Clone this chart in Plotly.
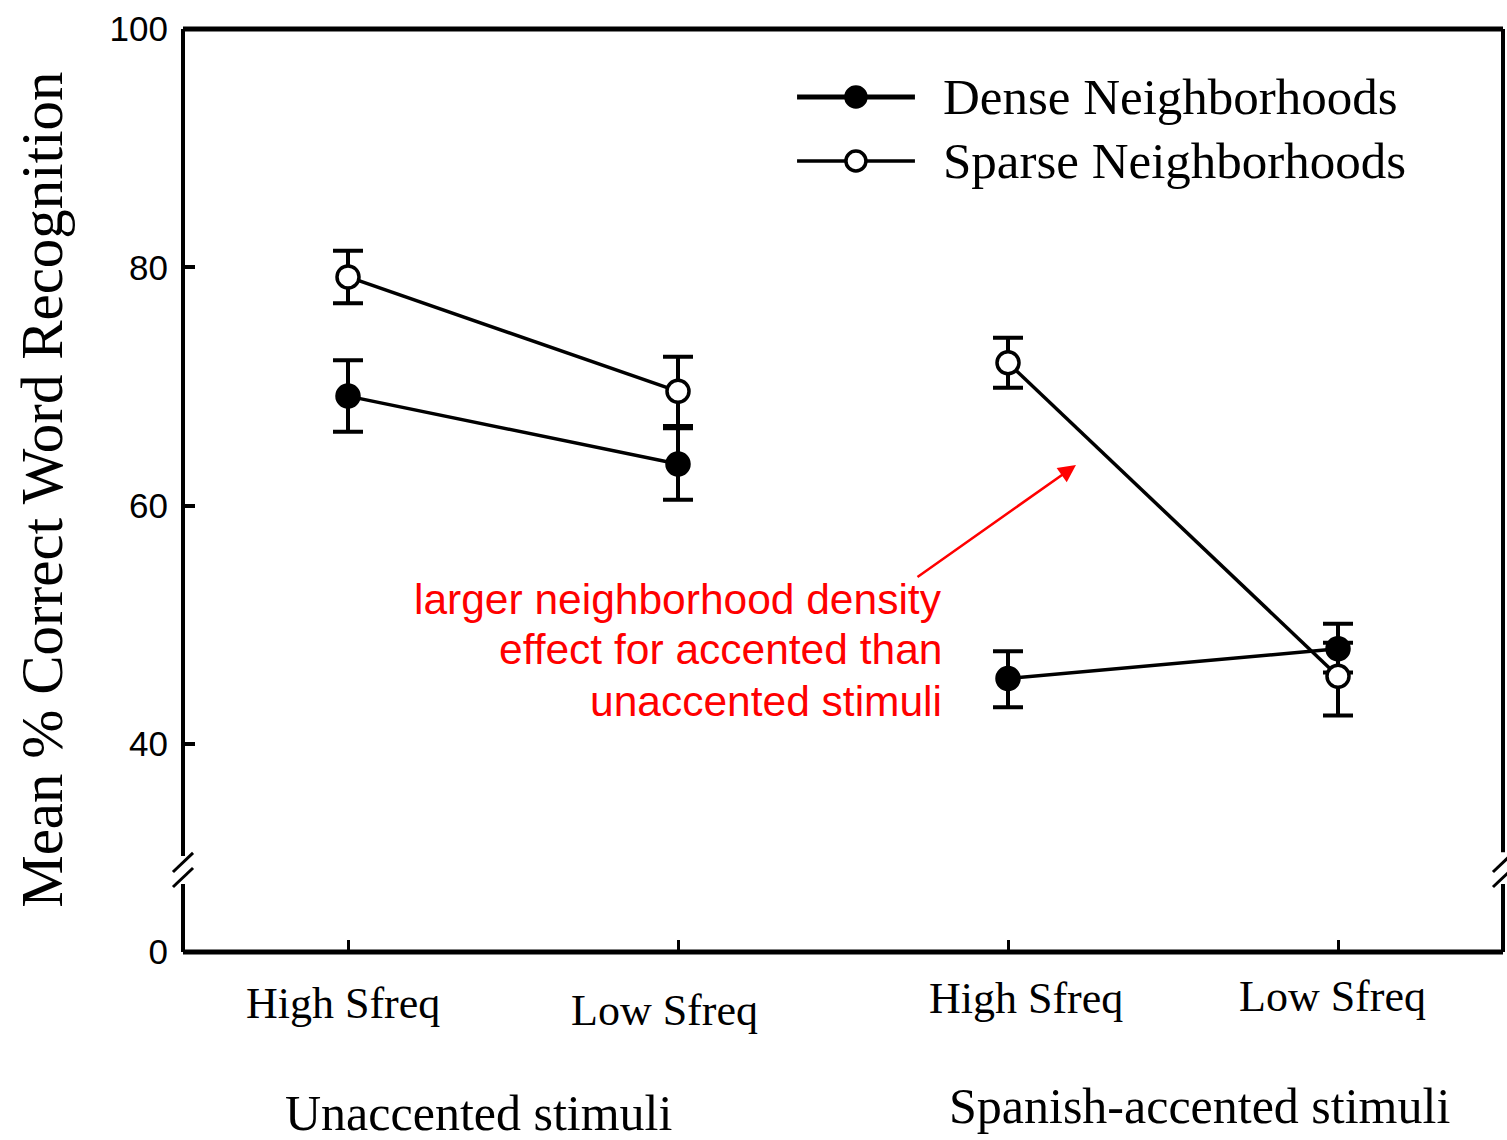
import plotly.graph_objects as go

# ---------------- data ----------------
conditions = ["High Sfreq", "Low Sfreq", "High Sfreq", "Low Sfreq"]
groups = ["Unaccented stimuli", "Spanish-accented stimuli"]
x_unacc = [1, 2]
x_span = [3, 4]

dense_unacc = [69.2, 63.5]
dense_unacc_err_plus = [3.0, 3.0]
dense_unacc_err_minus = [3.0, 3.0]
sparse_unacc = [79.2, 69.6]
sparse_unacc_err_plus = [2.2, 2.9]
sparse_unacc_err_minus = [2.2, 2.9]

dense_span = [45.5, 48.0]
dense_span_err_plus = [2.3, 2.1]
dense_span_err_minus = [2.4, 2.0]
sparse_span = [72.0, 45.7]
sparse_span_err_plus = [2.1, 2.8]
sparse_span_err_minus = [2.1, 3.3]

y_tick_vals = [40, 60, 80, 100]
y_tick_text = ["40", "60", "80", "100"]
y_zero_pos = 22.56  # position of the "0" label below the axis break
series_names = ["Dense Neighborhoods", "Sparse Neighborhoods"]
note_lines = ["larger neighborhood density", "effect for accented than", "unaccented stimuli"]

SERIF = "Liberation Serif, Times New Roman, serif"
SANS = "Liberation Sans, Arial, sans-serif"

fig = go.Figure()

def add_series(xs, ys, eplus, eminus, filled):
    fig.add_trace(go.Scatter(
        x=xs, y=ys, mode="lines+markers",
        line=dict(color="black", width=3.5),
        marker=dict(symbol="circle", size=22,
                    color="black" if filled else "white",
                    line=dict(color="black", width=3.5)),
        error_y=dict(type="data", symmetric=False, array=eplus, arrayminus=eminus,
                     visible=True, color="black", thickness=4, width=15),
        showlegend=False, hoverinfo="skip", cliponaxis=False))

add_series(x_unacc, dense_unacc, dense_unacc_err_plus, dense_unacc_err_minus, True)
add_series(x_span, dense_span, dense_span_err_plus, dense_span_err_minus, True)
add_series(x_unacc, sparse_unacc, sparse_unacc_err_plus, sparse_unacc_err_minus, False)
add_series(x_span, sparse_span, sparse_span_err_plus, sparse_span_err_minus, False)

# ---------------- custom legend (overlay axes 0..1) ----------------
leg_x0, leg_x1, leg_xm = 0.4652, 0.5545, 0.5098
leg_y = [0.9263, 0.857]
for i, (name, filled) in enumerate(zip(series_names, [True, False])):
    fig.add_trace(go.Scatter(
        x=[leg_x0, leg_x1], y=[leg_y[i], leg_y[i]], mode="lines",
        line=dict(color="black", width=5 if filled else 3.5),
        xaxis="x2", yaxis="y2", showlegend=False, hoverinfo="skip"))
    fig.add_trace(go.Scatter(
        x=[leg_xm], y=[leg_y[i]], mode="markers",
        marker=dict(symbol="circle", size=20,
                    color="black" if filled else "white",
                    line=dict(color="black", width=3.5)),
        xaxis="x2", yaxis="y2", showlegend=False, hoverinfo="skip"))
    fig.add_annotation(x=0.5745, y=leg_y[i], xref="paper", yref="paper",
                       text=name, showarrow=False, xanchor="left", yanchor="middle",
                       font=dict(family=SERIF, size=51, color="black"))

# ---------------- frame with axis breaks ----------------
brk_top, brk_bot = 0.104, 0.0737
frame = [
    (0, 1, 1, 1, 5),            # top
    (0, 0, 1, 0, 5),            # bottom
    (0, 1, 0, brk_top, 4),      # left upper
    (0, brk_bot, 0, 0, 4),      # left lower
    (1, 1, 1, brk_top + 0.004, 4),   # right upper
    (1, brk_bot, 1, 0, 4),      # right lower
]
for x0, y0, x1, y1, w in frame:
    fig.add_shape(type="line", xref="paper", yref="paper", x0=x0, y0=y0, x1=x1, y1=y1,
                  line=dict(color="black", width=w))
dx = 0.0076
for xc in [0, 1]:
    for (ya, yb) in [(0.0867, 0.1073), (0.0704, 0.091)]:
        fig.add_shape(type="line", xref="paper", yref="paper",
                      x0=xc - dx, y0=ya, x1=xc + dx, y1=yb,
                      line=dict(color="black", width=3))

# ---------------- category and group labels ----------------
cat_label_y = [-0.0553, -0.063, -0.050, -0.048]
cat_label_x = [0.985, 1.96, 3.055, 3.982]
for xv, yv, txt in zip(cat_label_x, cat_label_y, conditions):
    fig.add_annotation(x=xv, y=yv, xref="x", yref="paper", text=txt, showarrow=False,
                       xanchor="center", yanchor="middle",
                       font=dict(family=SERIF, size=44, color="black"))
for xv, yv, txt in zip([1.394, 3.579], [-0.207, -0.1995], groups):
    fig.add_annotation(x=xv, y=yv, xref="x", yref="paper", text=txt, showarrow=False,
                       xanchor="center", yanchor="bottom",
                       font=dict(family=SERIF, size=50, color="black"))

# y-axis title
fig.add_annotation(x=-0.107, y=0.5005, xref="paper", yref="paper",
                   text="Mean % Correct Word Recognition", textangle=-90,
                   showarrow=False, xanchor="center", yanchor="middle",
                   font=dict(family=SERIF, size=59, color="black"))

# ---------------- red note & arrow ----------------
for txt, yv in zip(note_lines, [0.3824, 0.3272, 0.2709]):
    fig.add_annotation(x=0.5765, y=yv, xref="paper", yref="paper", text=txt,
                       showarrow=False, xanchor="right", yanchor="middle",
                       font=dict(family=SANS, size=42.5, color="#ff0000"))
fig.add_annotation(x=0.6765, y=0.5276, xref="paper", yref="paper", text="",
                   showarrow=True, ax=-160, ay=113, axref="pixel", ayref="pixel",
                   arrowcolor="#ff0000", arrowwidth=2.5, arrowhead=2, arrowsize=1.4)

fig.update_layout(
    width=1507, height=1140,
    margin=dict(l=183, r=4, t=29, b=188),
    paper_bgcolor="white", plot_bgcolor="white",
    showlegend=False,
    xaxis=dict(range=[0.5, 4.5], tickvals=[1, 2, 3, 4], showticklabels=False,
               ticks="inside", ticklen=12, tickwidth=3, tickcolor="black",
               showline=False, showgrid=False, zeroline=False, fixedrange=True),
    yaxis=dict(range=[y_zero_pos, 100],
               tickvals=[y_zero_pos] + y_tick_vals, ticktext=["0"] + y_tick_text,
               ticks="inside", ticklen=12, tickwidth=4, tickcolor="black",
               ticklabelstandoff=14,
               tickfont=dict(family=SANS, size=35, color="black"),
               showline=False, showgrid=False, zeroline=False, fixedrange=True),
    xaxis2=dict(range=[0, 1], overlaying="x", visible=False, fixedrange=True),
    yaxis2=dict(range=[0, 1], overlaying="y", visible=False, fixedrange=True),
)

fig.write_html("out.html")
